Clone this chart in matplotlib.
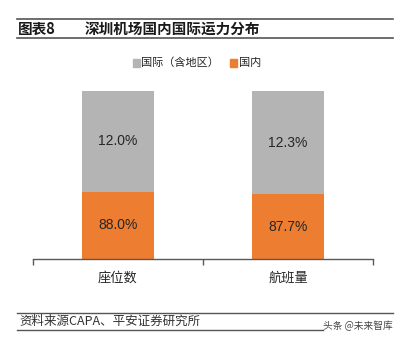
import matplotlib
matplotlib.use("Agg")
import matplotlib.pyplot as plt
from matplotlib.lines import Line2D
from matplotlib.patches import Rectangle

plt.rcParams['font.family'] = ['Noto Sans CJK SC', 'DejaVu Sans']

categories = ['座位数', '航班量']
domestic = [88.0, 87.7]
international = [12.0, 12.3]
series_names = ['国际（含地区）', '国内']
title_num = '图表8'
title_text = '深圳机场国内国际运力分布'
source_text = '资料来源CAPA、平安证券研究所'
watermark = '头条 @未来智库'

W, H = 405, 344
fig = plt.figure(figsize=(W / 100, H / 100), dpi=100)

def fx(px):
    return px / W

def fy(py):
    return 1 - py / H

gray = '#B4B4B4'
orange = '#ED7D31'
txt = '#262626'

ax = fig.add_axes([fx(33), fy(259), fx(373) - fx(33), fy(91) - fy(259)])
x = list(range(len(categories)))
w = 0.42
ax.bar(x, domestic, width=w, color=orange, zorder=2)
ax.bar(x, international, width=w, bottom=domestic, color=gray, zorder=2)
ax.set_ylim(80, 100)
ax.set_xlim(-0.5, len(categories) - 0.5)
for i in x:
    ax.text(i, (80 + domestic[i]) / 2, f'{domestic[i]:.1f}%', ha='center', va='center',
            fontsize=10, color=txt, family=['Liberation Sans', 'DejaVu Sans'])
    ax.text(i, (domestic[i] + 100) / 2, f'{international[i]:.1f}%', ha='center', va='center',
            fontsize=10, color=txt, family=['Liberation Sans', 'DejaVu Sans'])
for s in ['top', 'right', 'left']:
    ax.spines[s].set_visible(False)
ax.spines['bottom'].set_color('#595959')
ax.spines['bottom'].set_linewidth(1.0)
ax.spines['bottom'].set_zorder(3)
ax.set_yticks([])
ax.set_xticks([i - 0.5 for i in range(len(categories) + 1)])
ax.set_xticklabels([])
ax.tick_params(axis='x', direction='out', length=4, color='#595959', width=1.0)
for i, c in enumerate(categories):
    fig.text(fx(33) + (fx(373) - fx(33)) * (i + 0.5) / len(categories), fy(278), c,
             ha='center', va='center', fontsize=9.5, color=txt)

# Title block
fig.add_artist(Line2D([fx(17), fx(393)], [fy(19), fy(19)], color='#555555', lw=1.2))
fig.add_artist(Line2D([fx(17), fx(393)], [fy(38), fy(38)], color='#555555', lw=1.2))
fig.text(fx(18), fy(28.5), title_num, ha='left', va='center', fontsize=10.5,
         fontweight='bold', color='#1a1a1a')
fig.text(fx(85), fy(28.5), title_text, ha='left', va='center', fontsize=10.5,
         fontweight='bold', color='#1a1a1a')

# Legend
colors = [gray, orange]
leg_x = [133, 230]
for name, c, lx in zip(series_names, colors, leg_x):
    fig.add_artist(Rectangle((fx(lx), fy(66.5)), fx(7), fy(59.5) - fy(66.5), color=c,
                             transform=fig.transFigure))
    fig.text(fx(lx + 8.5), fy(63), name, ha='left', va='center', fontsize=8, color=txt)

# Source block
fig.add_artist(Line2D([fx(17), fx(393)], [fy(313), fy(313)], color='#555555', lw=1.0))
fig.add_artist(Line2D([fx(17), fx(323)], [fy(330), fy(330)], color='#555555', lw=1.0))
fig.text(fx(19), fy(321.5), source_text, ha='left', va='center', fontsize=9,
         style='italic', color='#333333')
fig.text(fx(393), fy(326), watermark, ha='right', va='center', fontsize=7,
         color='#444444')

fig.savefig('out.png', dpi=100)
